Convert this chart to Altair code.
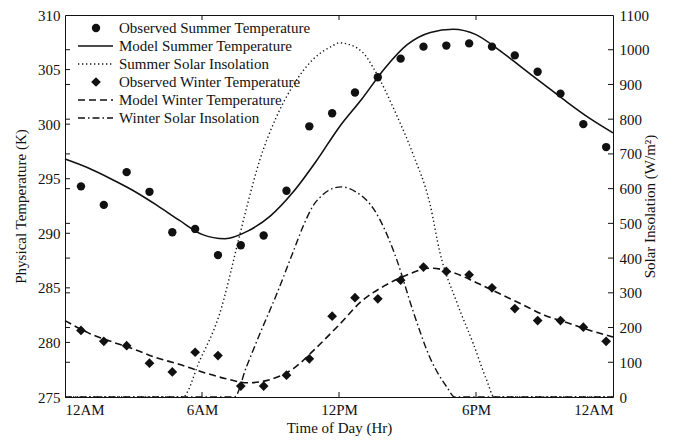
import altair as alt
import pandas as pd

W, H = 548, 382
FONT = "Liberation Serif"
INK = "#111111"

# ---------------- data ----------------
obs_hours = [0.7, 1.7, 2.7, 3.7, 4.7, 5.7, 6.7, 7.7, 8.7, 9.7, 10.7, 11.7,
             12.7, 13.7, 14.7, 15.7, 16.7, 17.7, 18.7, 19.7, 20.7, 21.7, 22.7, 23.7]
summer_obs = [294.3, 292.6, 295.6, 293.8, 290.1, 290.4, 288.0, 288.9, 289.8, 293.9, 299.8, 301.0,
              302.9, 304.3, 306.0, 307.1, 307.2, 307.4, 307.1, 306.3, 304.8, 302.8, 300.0, 297.9]
winter_obs = [281.1, 280.1, 279.7, 278.1, 277.3, 279.1, 278.8, 276.0, 276.0, 277.0, 278.5, 282.4,
              284.1, 284.0, 285.7, 286.9, 286.5, 286.2, 285.0, 283.1, 282.0, 282.0, 281.4, 280.1]

model_hours = [0, 1, 2, 3, 4, 5, 6, 7, 8, 9, 10, 11, 12,
               13, 14, 15, 16, 17, 18, 19, 20, 21, 22, 23, 24]
summer_model = [296.8, 296.0, 295.0, 293.9, 292.6, 291.2, 289.9, 289.5, 290.2, 291.6, 293.8, 296.6, 299.7,
                302.3, 305.1, 307.3, 308.4, 308.7, 308.2, 306.8, 305.2, 303.6, 302.0, 300.5, 299.2]
winter_model = [282.0, 280.9, 280.1, 279.4, 278.6, 278.0, 277.3, 276.7, 276.3, 276.6, 277.6, 279.5, 281.6,
                283.8, 285.2, 286.2, 286.8, 286.4, 285.5, 284.5, 283.5, 282.5, 281.8, 281.1, 280.5]

summer_ins_hours = [0, 5.15, 5.9, 6.76, 7.64, 8.0, 8.52, 9.25, 9.98, 10.86, 11.74, 12.0, 12.18,
                    13.06, 13.5, 14.52, 15.25, 15.98, 16.42, 17.15, 17.89, 18.47, 18.8, 24]
summer_ins = [0, 0, 105, 237, 463, 557, 680, 805, 896, 972, 1012, 1020, 1019,
              991, 948, 812, 698, 557, 416, 274, 152, 48, 0, 0]

winter_ins_hours = [0, 7.42, 7.94, 8.52, 9.25, 9.98, 10.42, 10.86, 11.3, 11.7, 12.1, 12.76,
                    13.2, 13.5, 13.78, 14.15, 14.52, 15.25, 15.98, 16.72, 17.08, 24]
winter_ins = [0, 0, 86, 180, 293, 416, 490, 550, 583, 600, 605, 590,
              567, 543, 512, 460, 397, 246, 114, 29, 0, 0]

temp_ticks = [275, 280, 285, 290, 295, 300, 305, 310]
ins_ticks = [0, 100, 200, 300, 400, 500, 600, 700, 800, 900, 1000, 1100]
time_ticks = [0, 6, 12, 18, 24]
time_labels = ["12AM", "6AM", "12PM", "6PM", "12AM"]

legend_labels = ["Observed Summer Temperature", "Model Summer Temperature",
                 "Summer Solar Insolation", "Observed Winter Temperature",
                 "Model Winter Temperature", "Winter Solar Insolation"]

# ---------------- scales & axes ----------------
x_scale = alt.Scale(domain=[0, 24], nice=False, zero=False)
t_scale = alt.Scale(domain=[275, 310], nice=False, zero=False)
i_scale = alt.Scale(domain=[0, 1100], nice=False, zero=False)

label_expr = " : ".join(
    [f"datum.value == {v} ? '{l}'" for v, l in zip(time_ticks[:-1], time_labels[:-1])]
) + f" : '{time_labels[-1]}'"

common_axis = dict(labelFont=FONT, labelFontSize=15, labelColor=INK,
                   titleFont=FONT, titleFontSize=15, titleFontWeight="normal", titleColor=INK,
                   ticks=False, grid=False, domain=False)

x_axis = alt.Axis(values=time_ticks, labelExpr=label_expr, title="Time of Day (Hr)",
                  labelPadding=5, titlePadding=3, **common_axis)
t_axis = alt.Axis(values=temp_ticks, title="Physical Temperature (K)", orient="left",
                  labelPadding=5, titlePadding=9, **common_axis)
i_axis = alt.Axis(values=ins_ticks, format="d", title="Solar Insolation (W/m²)", orient="right",
                  titleAngle=270, labelPadding=6, titlePadding=8, **common_axis)

X = lambda f: alt.X(f, type="quantitative", scale=x_scale, axis=x_axis)
YT = lambda f: alt.Y(f, type="quantitative", scale=t_scale, axis=t_axis)
YI = lambda f: alt.Y(f, type="quantitative", scale=i_scale, axis=i_axis)

obs_df = pd.DataFrame({"h": obs_hours, "s": summer_obs, "w": winter_obs})
mod_df = pd.DataFrame({"h": model_hours, "s": summer_model, "w": winter_model})
sins_df = pd.DataFrame({"h": summer_ins_hours, "v": summer_ins})
wins_df = pd.DataFrame({"h": winter_ins_hours, "v": winter_ins})

DASH = [7, 4]
DOT = [1.3, 2.7]
DASHDOT = [7, 3, 1.5, 3]

summer_line = alt.Chart(mod_df).mark_line(color=INK, strokeWidth=1.6, interpolate="monotone").encode(
    x=X("h"), y=YT("s"))
winter_line = alt.Chart(mod_df).mark_line(color=INK, strokeWidth=1.6, strokeDash=DASH,
                                          interpolate="monotone").encode(x=X("h"), y=YT("w"))
summer_pts = alt.Chart(obs_df).mark_point(shape="circle", filled=True, size=70, color=INK,
                                          opacity=1).encode(x=X("h"), y=YT("s"))
winter_pts = alt.Chart(obs_df).mark_point(shape="diamond", filled=True, size=95, color=INK,
                                          opacity=1).encode(x=X("h"), y=YT("w"))

# inward tick marks
tt_df = pd.DataFrame({"t": temp_ticks[1:-1]})
it_df = pd.DataFrame({"v": ins_ticks[1:-1]})
xt_df = pd.DataFrame({"h": time_ticks[1:-1]})
TL = 5
t_ticks_left = alt.Chart(tt_df).mark_rule(color=INK, strokeWidth=1).encode(
    y=YT("t"), x=alt.value(0), x2=alt.value(TL))
i_ticks_right = alt.Chart(it_df).mark_rule(color=INK, strokeWidth=1).encode(
    y=YI("v"), x=alt.value(W - TL), x2=alt.value(W))
i_ticks_left = alt.Chart(it_df).mark_rule(color=INK, strokeWidth=1).encode(
    y=YI("v"), x=alt.value(0), x2=alt.value(TL))
x_ticks_bottom = alt.Chart(xt_df).mark_rule(color=INK, strokeWidth=1).encode(
    x=X("h"), y=alt.value(H - TL), y2=alt.value(H))
x_ticks_top = alt.Chart(xt_df).mark_rule(color=INK, strokeWidth=1).encode(
    x=X("h"), y=alt.value(0), y2=alt.value(TL))

summer_ins_line = alt.Chart(sins_df).mark_line(color=INK, strokeWidth=1.4, strokeDash=DOT,
                                               interpolate="monotone").encode(x=X("h"), y=YI("v"))
winter_ins_line = alt.Chart(wins_df).mark_line(color=INK, strokeWidth=1.4, strokeDash=DASHDOT,
                                               interpolate="monotone").encode(x=X("h"), y=YI("v"))

# legend (manual, inside plot, top-left)
LEG_Y0, LEG_DY = 13, 18
SYM_X0, SYM_X1, SYM_XC, TXT_X = 13, 48, 31, 54
leg_layers = []
styles = ["circle", "solid", "dot", "diamond", "dash", "dashdot"]
for i, (lab, st) in enumerate(zip(legend_labels, styles)):
    yy = LEG_Y0 + i * LEG_DY
    one = pd.DataFrame({"label": [lab]})
    leg_layers.append(alt.Chart(one).mark_text(font=FONT, fontSize=15, color=INK, align="left",
                                               baseline="middle").encode(
        x=alt.value(TXT_X), y=alt.value(yy), text="label:N"))
    if st in ("circle", "diamond"):
        leg_layers.append(alt.Chart(one).mark_point(shape=st, filled=True, opacity=1, color=INK,
                                                    size=70 if st == "circle" else 95).encode(
            x=alt.value(SYM_XC), y=alt.value(yy)))
    else:
        kw = {}
        if st == "dot":
            kw["strokeDash"] = DOT
        elif st == "dash":
            kw["strokeDash"] = DASH
        elif st == "dashdot":
            kw["strokeDash"] = DASHDOT
        leg_layers.append(alt.Chart(one).mark_rule(color=INK, strokeWidth=1.6, **kw).encode(
            x=alt.value(SYM_X0), x2=alt.value(SYM_X1), y=alt.value(yy)))

temp_group = alt.layer(t_ticks_left, x_ticks_bottom, x_ticks_top, summer_line, winter_line,
                       summer_pts, winter_pts, *leg_layers)
ins_group = alt.layer(i_ticks_right, i_ticks_left, summer_ins_line, winter_ins_line)

chart = alt.layer(temp_group, ins_group).resolve_scale(y="independent").properties(
    width=W, height=H,
    autosize=alt.AutoSizeParams(type="none"),
    padding={"left": 57, "top": 7, "right": 60, "bottom": 39},
    background="white",
).configure_view(stroke=INK, strokeWidth=1)

chart.save("out.html", embed_options={"renderer": "svg", "actions": False})
